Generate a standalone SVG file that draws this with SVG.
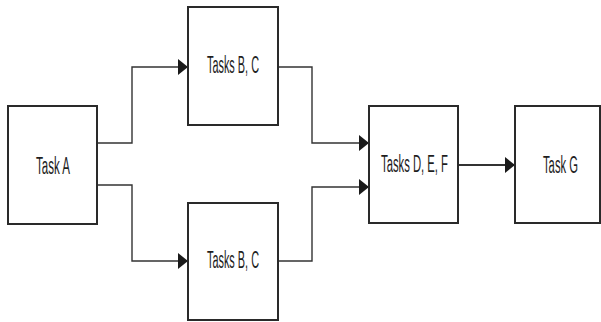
<svg xmlns="http://www.w3.org/2000/svg" width="601" height="322" viewBox="0 0 601 322">
  <style>
    .box { fill: #ffffff; stroke: #2a2a2a; stroke-width: 2; }
    .label { font-family: "Liberation Sans", Arial, sans-serif; font-size: 23px; fill: #1e1e1e; text-anchor: middle; }
    .wire { fill: none; stroke: #333333; stroke-width: 1.4; }
    .wire.main { stroke-width: 2; }
  </style>
  <defs>
    <marker id="arrow" markerUnits="userSpaceOnUse" markerWidth="10" markerHeight="16" refX="10" refY="8" orient="auto">
      <path d="M0,0 L10,8 L0,16 Z" fill="#1a1a1a"/>
    </marker>
  </defs>

  <rect width="601" height="322" fill="#ffffff"/>

  <!-- connectors -->
  <g id="connectors">
    <path class="wire" d="M97,143 H132 V67 H188" marker-end="url(#arrow)"/>
    <path class="wire" d="M97,185 H132 V261 H188" marker-end="url(#arrow)"/>
    <path class="wire" d="M278,67 H312 V143 H369" marker-end="url(#arrow)"/>
    <path class="wire" d="M278,261 H312 V187 H369" marker-end="url(#arrow)"/>
    <path class="wire main" d="M458,165 H515" marker-end="url(#arrow)"/>
  </g>

  <!-- nodes -->
  <g id="task-a">
    <rect class="box" x="8" y="106" width="89" height="118"/>
    <text class="label" x="53" y="174" textLength="34" lengthAdjust="spacingAndGlyphs">Task A</text>
  </g>
  <g id="tasks-bc-top">
    <rect class="box" x="188" y="7" width="90" height="118"/>
    <text class="label" x="233" y="73" textLength="52" lengthAdjust="spacingAndGlyphs">Tasks B, C</text>
  </g>
  <g id="tasks-bc-bottom">
    <rect class="box" x="188" y="203" width="90" height="117"/>
    <text class="label" x="233" y="268" textLength="52" lengthAdjust="spacingAndGlyphs">Tasks B, C</text>
  </g>
  <g id="tasks-def">
    <rect class="box" x="369" y="106" width="89" height="117"/>
    <text class="label" x="414.5" y="172" textLength="67" lengthAdjust="spacingAndGlyphs">Tasks D, E, F</text>
  </g>
  <g id="task-g">
    <rect class="box" x="515" y="106" width="85" height="117"/>
    <text class="label" x="560.5" y="173" textLength="35" lengthAdjust="spacingAndGlyphs">Task G</text>
  </g>
</svg>
